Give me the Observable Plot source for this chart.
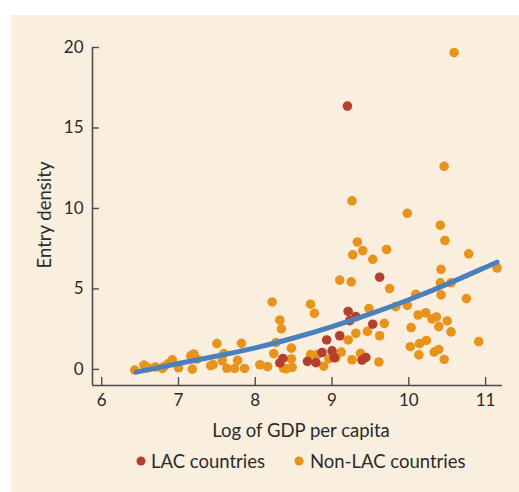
<!DOCTYPE html>
<html>
<head>
<meta charset="utf-8">
<script src="https://cdn.jsdelivr.net/npm/d3@7"></script>
<script src="https://cdn.jsdelivr.net/npm/@observablehq/plot@0.6"></script>
<style>
  html, body { margin: 0; padding: 0; background: #ffffff; }
  body { width: 519px; height: 492px; position: relative; overflow: hidden; font-family: Lato, "Noto Sans", sans-serif; color: #2b2b2b; }
  #panel { position: absolute; left: 11px; top: 15px; width: 508px; height: 477px; background: #FAEEDE; }
  #chart { position: absolute; left: 0; top: 0; }
  .ylab { position: absolute; left: 44px; top: 215px; transform: translate(-50%, -50%) rotate(-90deg); font-size: 18.5px; white-space: nowrap; }
  .xlab { position: absolute; left: 301px; top: 430px; transform: translate(-50%, -50%); font-size: 18.5px; white-space: nowrap; }
  .leg { position: absolute; top: 461px; transform: translateY(-50%); font-size: 18.5px; white-space: nowrap; }
  .sw { position: absolute; top: 461px; width: 9px; height: 9px; border-radius: 50%; transform: translate(-50%, -50%); }
</style>
</head>
<body>
<div id="panel"></div>
<div id="chart"></div>
<div class="ylab">Entry density</div>
<div class="xlab">Log of GDP per capita</div>
<div class="sw" style="left:141px;background:#B3402E"></div>
<div class="leg" style="left:151px">LAC countries</div>
<div class="sw" style="left:299px;background:#E8941C"></div>
<div class="leg" style="left:310px">Non-LAC countries</div>
<script>
// Tick labels
const xTicks = [6, 7, 8, 9, 10, 11];
const yTicks = [0, 5, 10, 15, 20];

// LAC countries (log GDP per capita, entry density)
const lacX = [9.20, 9.62, 9.21, 9.31, 9.23, 9.53, 9.10, 8.93, 9.00, 9.03, 8.87, 8.68, 8.79, 8.32, 8.36, 9.39, 9.44];
const lacY = [16.36, 5.73, 3.60, 3.28, 3.03, 2.81, 2.09, 1.83, 1.15, 0.73, 1.05, 0.50, 0.42, 0.40, 0.68, 0.58, 0.74];

// Non-LAC countries
const nonX = [6.43, 6.55, 6.60, 6.70, 6.79, 6.81, 6.87, 6.92, 7.00, 7.16, 7.20, 7.24, 7.18, 7.42, 7.45, 7.50, 7.59, 7.57, 7.63, 7.73, 7.77, 7.82, 7.86,
  8.06, 8.16, 8.22, 8.27, 8.24, 8.32, 8.34, 8.37, 8.40, 8.47, 8.48, 8.47, 8.72, 8.77, 8.72, 8.81, 8.89, 8.96, 9.05, 9.12,
  9.10, 9.25, 9.26, 9.33, 9.27, 9.40, 9.53, 9.71, 9.48, 9.46, 9.31, 9.21, 9.26, 9.37, 9.62, 9.61, 9.68, 9.75, 9.83, 9.98, 9.98,
  10.03, 10.02, 10.09, 10.12, 10.22, 10.14, 10.23, 10.13, 10.30, 10.36, 10.39, 10.50, 10.55, 10.33, 10.39, 10.46,
  10.41, 10.47, 10.46, 10.59, 10.42, 10.41, 10.55, 10.42, 10.75, 10.78, 10.91, 11.15];
const nonY = [-0.04, 0.27, 0.10, 0.15, 0.06, 0.17, 0.37, 0.59, 0.10, 0.84, 0.96, 0.64, 0.02, 0.23, 0.30, 1.60, 0.98, 0.53, 0.07, 0.06, 0.56, 1.62, 0.06,
  0.29, 0.17, 4.19, 1.67, 0.98, 3.06, 2.52, 0.06, 0.04, 1.32, 0.12, 0.65, 4.05, 3.48, 0.92, 0.92, 0.20, 0.65, 0.71, 1.08,
  5.55, 5.44, 10.47, 7.92, 7.12, 7.38, 6.84, 7.45, 3.78, 2.36, 2.24, 1.83, 0.60, 1.00, 2.09, 0.46, 2.86, 5.02, 3.90, 3.98, 9.70,
  2.60, 1.41, 4.66, 3.38, 3.52, 1.60, 1.80, 0.90, 3.14, 3.26, 2.66, 3.01, 2.33, 1.08, 1.24, 0.62,
  8.96, 8.01, 12.62, 19.68, 6.22, 5.38, 5.38, 4.63, 4.40, 7.18, 1.73, 6.30];

// Fitted curve
const fitX = [6.45, 7, 7.5, 8, 8.5, 9, 9.5, 10, 10.5, 11, 11.15];
const fitY = [-0.17, 0.37, 0.83, 1.34, 1.95, 2.66, 3.45, 4.33, 5.30, 6.35, 6.66];

const xDomain = [5.88, 11.22];
const yDomain = [-1, 20];

const lac = lacX.map((x, i) => ({x, y: lacY[i]}));
const non = nonX.map((x, i) => ({x, y: nonY[i]}));
const fit = fitX.map((x, i) => ({x, y: fitY[i]}));

const W = 519, H = 415, mL = 92, mR = 17, mT = 47, mB = 30;
const axisColor = "#4d4d4d";

const chart = Plot.plot({
  width: W, height: H,
  marginLeft: mL, marginRight: mR, marginTop: mT, marginBottom: mB,
  style: {background: "transparent", fontFamily: "Lato, 'Noto Sans', sans-serif", fontSize: "17px", color: "#2b2b2b"},
  x: {domain: xDomain, label: null},
  y: {domain: yDomain, label: null},
  marks: [
    Plot.ruleY([yDomain[0]], {stroke: axisColor, strokeWidth: 1.6}),
    Plot.ruleX([xDomain[0]], {stroke: axisColor, strokeWidth: 1.6}),
    Plot.ruleX(xTicks, {x: d => d, stroke: axisColor, strokeWidth: 1.4, insetTop: (H - mT - mB) - 8}),
    Plot.ruleY(yTicks, {y: d => d, stroke: axisColor, strokeWidth: 1.4, insetRight: (W - mL - mR) - 7}),
    Plot.axisX(xTicks, {tickSize: 0, tickPadding: 8, label: null, fontSize: 17}),
    Plot.axisY(yTicks, {tickSize: 0, tickPadding: 9, label: null, fontSize: 17}),
    Plot.dot(non, {x: "x", y: "y", r: 4.8, fill: "#E8941C", stroke: null}),
    Plot.dot(lac, {x: "x", y: "y", r: 4.8, fill: "#B3402E", stroke: null}),
    Plot.line(fit, {x: "x", y: "y", stroke: "#4A80BD", strokeWidth: 5, curve: "natural", strokeLinecap: "round"})
  ]
});
document.getElementById("chart").appendChild(chart);
</script>
</body>
</html>
